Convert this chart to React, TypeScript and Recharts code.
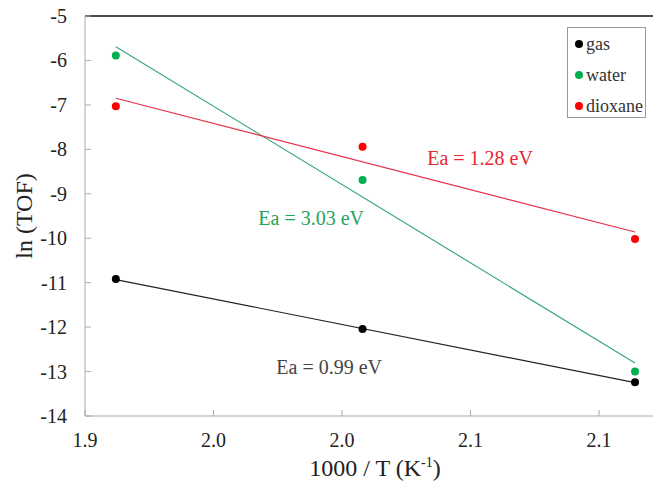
import {
  ComposedChart,
  Scatter,
  XAxis,
  YAxis,
  ReferenceLine,
  ReferenceDot,
  Label,
} from 'recharts'

// 1000/T for 523, 498 and 473 K
const invT = [1.912, 2.008, 2.114]
const gas = [-10.92, -12.04, -13.24]
const water = [-5.89, -8.69, -13.0]
const dioxane = [-7.03, -7.94, -10.02]

// fitted lines, ends
const fitX = [1.912, 2.114]
const gasFit = [-10.93, -13.25]
const waterFit = [-5.69, -12.81]
const dioxaneFit = [-6.85, -9.86]

const xTicks = [1.9, 1.95, 2.0, 2.05, 2.1]
const xTickLabels = ['1.9', '2.0', '2.0', '2.1', '2.1']
const yTicks = [-14, -13, -12, -11, -10, -9, -8, -7, -6, -5]

const series = [
  { name: 'gas', color: '#000000', line: '#222222', values: gas, fit: gasFit },
  { name: 'water', color: '#00b050', line: '#3aa87a', values: water, fit: waterFit },
  { name: 'dioxane', color: '#ff0000', line: '#e8304a', values: dioxane, fit: dioxaneFit },
]

const FONT = '"Liberation Serif", "Times New Roman", serif'
const X_MARGIN = 24
const Y_MARGIN = 18

const pts = (xs: number[], ys: number[]) => xs.map((x, i) => ({ x, y: ys[i] }))

function XTick({ x, y, index }: any) {
  return (
    <g>
      <line x1={x} x2={x} y1={y - X_MARGIN} y2={y - X_MARGIN - 6} stroke="#aaa" />
      <text x={x} y={y} dy="0.35em" textAnchor="middle" fontSize={20} fill="#222" fontFamily={FONT}>
        {xTickLabels[index]}
      </text>
    </g>
  )
}

function YTick({ x, y, payload }: any) {
  return (
    <g>
      <line x1={x + Y_MARGIN} x2={x + Y_MARGIN + 6} y1={y} y2={y} stroke="#aaa" />
      <text x={x} y={y} dy="0.35em" textAnchor="end" fontSize={20} fill="#222" fontFamily={FONT}>
        {payload.value}
      </text>
    </g>
  )
}

function LegendBox() {
  return (
    <div
      style={{
        position: 'absolute',
        left: 567,
        top: 27,
        width: 79,
        height: 91,
        border: '1px solid #999',
        background: '#fff',
        boxSizing: 'border-box',
        paddingTop: 0,
        fontFamily: FONT,
        fontSize: 18,
        color: '#333',
      }}
    >
      {series.map((s) => (
        <div key={s.name} style={{ display: 'flex', alignItems: 'center', height: 31, lineHeight: '18px' }}>
          <span
            style={{
              display: 'inline-block',
              width: 8,
              height: 8,
              borderRadius: 4,
              background: s.color,
              marginLeft: 7,
              marginRight: 3,
            }}
          />
          <span>{s.name}</span>
        </div>
      ))}
    </div>
  )
}

const note = (color: string, text: string) => (props: any) => {
  const { viewBox } = props
  return (
    <text
      x={viewBox.x}
      y={viewBox.y}
      dy="0.35em"
      textAnchor="middle"
      fontSize={20}
      fill={color}
      fontFamily={FONT}
    >
      {text}
    </text>
  )
}

export default function App() {
  return (
    <div style={{ position: 'absolute', left: 0, top: 0, width: 653, height: 482, background: '#fff' }}>
      <ComposedChart width={653} height={482} margin={{ top: 16, right: 0, bottom: 0, left: 0 }}>
        <XAxis
          type="number"
          dataKey="x"
          domain={[1.9, 2.121]}
          ticks={xTicks}
          allowDataOverflow
          height={66}
          stroke="#aaa"
          tickLine={false}
          tickSize={0}
          tickMargin={X_MARGIN}
          tick={<XTick />}
        >
          <Label
            content={(p: any) => {
              const vb = p.viewBox
              return (
                <text x={vb.x + vb.width / 2 + 6} y={vb.y + 52} dy="0.35em" textAnchor="middle" fontSize={24} fill="#222" fontFamily={FONT}>
                  1000 / T (K<tspan fontSize={14} dy={-9}>-1</tspan>
                  <tspan dy={9}>)</tspan>
                </text>
              )
            }}
          />
        </XAxis>
        <YAxis
          type="number"
          dataKey="y"
          domain={[-14, -5]}
          ticks={yTicks}
          width={85}
          stroke="#aaa"
          tickLine={false}
          tickSize={0}
          tickMargin={Y_MARGIN}
          tick={<YTick />}
        >
          <Label
            content={(p: any) => {
              const vb = p.viewBox
              const cx = vb.x + 24
              const cy = vb.y + vb.height / 2
              return (
                <text x={cx} y={cy} dy="0.35em" textAnchor="middle" fontSize={24} fill="#222" fontFamily={FONT} transform={`rotate(-90 ${cx} ${cy})`}>
                  ln (TOF)
                </text>
              )
            }}
          />
        </YAxis>
        <ReferenceLine y={-5} stroke="#111" strokeWidth={1.5} />
        {series.map((s) => (
          <Scatter
            key={s.name + '-fit'}
            data={pts(fitX, s.fit)}
            line={{ stroke: s.line, strokeWidth: 1.2 }}
            shape={() => null}
            legendType="none"
            isAnimationActive={false}
          />
        ))}
        {series.map((s) => (
          <Scatter
            key={s.name}
            name={s.name}
            data={pts(invT, s.values)}
            fill={s.color}
            shape={(p: any) => <circle cx={p.cx} cy={p.cy} r={4} fill={s.color} />}
            isAnimationActive={false}
          />
        ))}
        <ReferenceDot x={2.0537} y={-8.195} r={0} stroke="none" label={note('#e8262f', 'Ea = 1.28 eV')} />
        <ReferenceDot x={1.988} y={-9.545} r={0} stroke="none" label={note('#1fa45e', 'Ea = 3.03 eV')} />
        <ReferenceDot x={1.995} y={-12.9} r={0} stroke="none" label={note('#444', 'Ea = 0.99 eV')} />
      </ComposedChart>
      <LegendBox />
    </div>
  )
}
